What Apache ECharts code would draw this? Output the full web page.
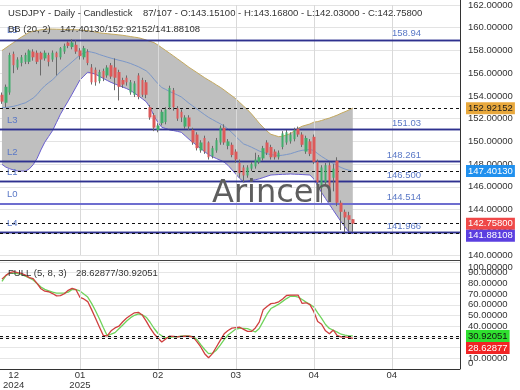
<!DOCTYPE html>
<html><head><meta charset="utf-8">
<script src="https://cdn.jsdelivr.net/npm/echarts@6/dist/echarts.min.js"></script>
<style>html,body{margin:0;padding:0;background:#fff}#c{width:520px;height:390px}</style>
</head><body><div id="c"></div>
<script>
// ---------- data ----------
const symbolName = 'USDJPY', periodName = 'Daily', chartKind = 'Candlestick';
const barCounter = '87/107';
const slotCount = 118;
const tickIndex = [3, 20, 40, 60, 80, 100];
const tickLabels = ['12\n2024', '01\n2025', '02', '03', '04', '04'];
const monthGridIndex = [20, 40, 60, 80, 100];

const opens = [154.1,153.4,154.3,157.7,156.5,156.9,157.0,157.0,157.9,157.8,157.8,157.3,157.6,157.2,157.8,157.4,157.9,158.7,158.3,158.5,158.0,157.4,
157.9,156.5,156.3,155.3,156.2,155.8,156.7,156.5,156.1,155.4,155.6,154.3,154.1,155.8,155.4,155.2,153.0,152.3,151.0,151.6,151.7,153.0,154.5,
152.9,152.6,151.3,152.1,151.0,150.6,149.2,150.3,149.9,148.7,149.2,149.9,151.2,149.6,149.7,149.1,148.1,147.7,147.0,147.6,147.8,148.2,148.5,149.9,149.5,149.1,148.6,149.5,149.9,150.0,150.2,151.1,150.6,149.1,
150.0,150.4,148.2,145.9,146.4,147.9,146.8,148.3,144.6,143.8,143.5,143.151];
const closes = [153.5,154.8,157.6,156.7,157.2,157.4,157.6,158.0,157.4,157.0,157.2,157.8,157.0,157.8,157.4,158.2,158.4,158.4,158.7,157.9,157.5,158.2,
156.9,155.2,155.2,156.1,155.6,156.5,155.7,155.6,154.8,155.0,155.2,155.2,155.1,153.9,154.1,154.1,152.1,151.2,151.4,152.6,152.8,154.7,153.0,
152.0,152.1,152.1,151.3,149.9,149.4,149.9,149.1,148.6,149.4,150.1,151.2,149.9,150.0,148.8,148.4,147.2,147.0,147.7,148.0,148.4,148.6,149.4,149.0,148.6,148.6,149.0,150.7,150.8,150.6,151.0,150.6,149.7,150.3,
148.9,148.2,146.4,147.7,147.9,145.9,147.6,144.6,143.8,143.3,143.1,142.758];
const lows = [153.3,153.0,154.1,156.0,156.3,156.6,156.8,156.8,157.1,156.8,155.8,157.1,156.6,157.0,155.8,157.2,157.7,158.2,158.1,157.7,157.2,157.2,
156.7,155.0,154.9,155.1,155.3,155.6,155.5,154.5,153.6,154.7,154.9,154.1,153.9,153.7,153.9,153.8,151.9,150.9,150.8,151.4,151.5,152.8,152.7,
151.8,151.7,151.1,151.0,149.7,149.2,149.0,148.9,148.4,148.5,149.0,149.7,149.7,149.3,148.6,148.1,146.8,146.4,146.8,147.4,147.6,148.0,148.3,148.8,148.4,148.4,148.4,149.3,149.7,149.8,150.0,150.4,149.5,148.9,
148.7,148.0,145.0,144.6,146.1,145.2,145.6,144.3,142.2,142.0,142.1,142.03];
const highs = [154.3,155.0,157.8,157.9,157.4,157.6,157.8,158.1,158.1,158.0,157.9,158.0,157.8,158.0,157.9,158.3,158.6,158.8,159.0,158.9,158.2,158.4,
158.1,156.8,156.5,156.3,156.4,156.7,156.9,157.3,156.3,155.6,155.8,155.4,155.3,156.0,155.6,155.4,153.2,152.5,151.6,152.8,153.0,154.9,154.7,
153.1,152.8,152.3,152.3,151.2,150.8,150.1,150.5,150.0,149.6,150.3,151.4,151.5,150.2,149.9,149.3,148.4,147.9,147.9,148.2,149.0,148.8,149.6,150.1,149.7,149.3,149.2,150.9,151.0,150.8,151.2,151.3,150.8,150.5,
150.2,150.6,148.4,147.9,148.1,148.2,148.0,148.6,144.8,144.0,143.8,143.168];

const bbUpper = [157.99,158.23,158.47,158.70,158.95,159.18,159.38,159.60,159.68,159.75,
159.82,159.85,159.89,159.88,159.87,159.86,159.85,159.84,159.83,159.82,
159.81,159.77,159.74,159.69,159.62,159.55,159.51,159.48,159.44,159.41,
159.37,159.33,159.28,159.22,159.17,159.12,159.03,158.92,158.80,158.69,
158.48,158.24,158.00,157.76,157.52,157.27,157.02,156.77,156.51,156.29,
156.06,155.83,155.60,155.39,155.19,154.97,154.76,154.52,154.26,154.01,
153.74,153.42,153.10,152.78,152.42,152.02,151.60,151.24,150.90,150.62,
150.52,150.41,150.46,150.56,150.69,150.92,151.16,151.33,151.43,151.53,
151.69,151.74,151.84,151.95,152.05,152.18,152.31,152.47,152.61,152.76,
152.92152];
const bbMiddle = [152.99,152.98,153.03,153.09,153.17,153.29,153.39,153.59,153.81,154.12,
154.54,154.89,155.17,155.42,155.77,156.13,156.42,156.70,157.00,157.30,
157.61,157.76,157.92,157.85,157.77,157.64,157.53,157.42,157.32,157.23,
157.14,157.06,156.96,156.85,156.71,156.57,156.39,156.21,155.89,155.47,
155.08,154.74,154.57,154.39,154.24,154.08,153.91,153.63,153.35,153.10,
152.85,152.60,152.35,152.11,151.92,151.73,151.55,151.35,151.08,150.76,
150.43,150.08,149.77,149.64,149.49,149.32,149.15,149.03,148.92,148.83,
148.79,148.75,148.78,148.84,148.91,149.02,149.13,149.21,149.25,149.29,
149.19,148.92,148.67,148.46,148.25,148.06,147.87,147.70,147.56,147.46,
147.40130];
const bbLower = [147.98,147.73,147.59,147.48,147.39,147.39,147.39,147.57,147.94,148.49,
149.25,149.93,150.44,150.96,151.67,152.39,152.98,153.56,154.16,154.78,
155.40,155.74,156.09,156.01,155.91,155.72,155.54,155.36,155.19,155.05,
154.91,154.78,154.64,154.48,154.24,154.01,153.75,153.49,152.98,152.24,
151.67,151.24,151.13,151.01,150.95,150.88,150.80,150.49,150.18,149.91,
149.64,149.37,149.10,148.83,148.65,148.49,148.34,148.17,147.89,147.50,
147.12,146.73,146.43,146.49,146.56,146.62,146.70,146.81,146.93,147.04,
147.06,147.08,147.10,147.11,147.13,147.11,147.10,147.08,147.06,147.04,
146.69,146.10,145.49,144.97,144.45,143.94,143.43,142.93,142.47,142.02,
141.88108];

const stochK = [84,87.5,90,91,90,89.3,87.7,85.4,84.4,80,
75,72.7,72.2,70.5,68.3,68.6,70.3,73.5,75.4,74.1,
67,65.5,63,55.5,47.5,39.2,31.3,31,35.7,38.4,
40,44.2,47.7,50.2,52.5,53,50.4,44.8,38.5,33,
29,25.2,28,30.8,30.5,30,30.4,30.8,30.6,30,
25.5,20.6,14.3,10.5,14.4,20.6,26.8,32.9,36,38.2,
38.6,39,37.1,35.2,35.1,38.4,43.8,55.3,58.4,61.1,
61.6,62.8,65.5,68.7,69,69,69,61.3,61.9,60.2,
53.6,44.4,41.8,35.7,32.9,36.4,31.3,30,30,29.3,
28.62877];
const stochD = [82,87.1,89.9,89.5,89.2,88.4,86.8,85.1,83.2,79.9,
76.6,74.4,73.1,71.8,71,71,71,71.8,74.4,74.1,
73,70.1,67.2,61.3,54.4,46.9,38.7,31.1,32.5,34,
37.6,41.2,44.8,48,50.2,51.6,50.6,48.4,43.7,38.1,
33.4,31,29.1,29.6,30,30.3,30.6,30.9,30.7,30.3,
27.6,22.7,18.2,14.4,14.8,17.6,22.4,27.4,31.8,34.5,
37.3,38,38,37.7,36.2,34.6,37.9,44.5,51.2,56.5,
58.5,60.6,63.2,65.8,68,68,67.2,65,62.5,60.5,
58,52.4,47.3,41.6,37.9,36.2,34.4,32.5,31.7,31,
30.92051];

const levelNames  = ['L5', 'L3', 'L2', 'L1', 'L0', 'L4'];
const levelValues = [158.94, 151.03, 148.261, 146.500, 144.514, 141.966];
const levelTexts  = ['158.94', '151.03', '148.261', '146.500', '144.514', '141.966'];
const bbParams = 'BB (20, 2)';
const stochParams = 'FULL (5, 8, 3)';

// ---------- styles ----------
const FONT = '"Liberation Sans", Arial, sans-serif';
const FS = 9.5;
const GREEN = '#41ad6c', RED = '#dd5a5a', WICK = '#6a6a6a';
const LEVEL_COLOR = '#2f318f', LEVEL_TEXT = '#5a78c6';

const last = a => a[a.length - 1];
const categories = Array.from({length: slotCount}, (_, i) => 'b' + i);
const wickData = opens.map((o, i) => [o, closes[i], lows[i], highs[i]]);
const bodyData = opens.map((o, i) => [o, closes[i], Math.min(o, closes[i]), Math.max(o, closes[i])]);
const bandWidth = bbUpper.map((u, i) => u - bbLower[i]);

const dashed = v => ({yAxis: v, lineStyle: {color: '#111', type: [3, 3], width: 1}, label: {show: false}});
const vGrid = idx => ({xAxis: categories[idx], lineStyle: {color: '#d9d9d9', type: 'solid', width: 1}, label: {show: false}});

const levelMarks = [];
levelValues.forEach((v, i) => {
  const isL0 = levelNames[i] === 'L0';
  const ls = {color: isL0 ? '#6e6ecf' : LEVEL_COLOR, type: 'solid', width: isL0 ? 2 : 1.3};
  levelMarks.push({yAxis: v, lineStyle: ls, label: {show: true, position: 'insideEndTop', distance: [39, 1],
    formatter: levelTexts[i], color: LEVEL_TEXT, fontSize: FS, fontFamily: FONT}});
  levelMarks.push({yAxis: v, lineStyle: ls, label: {show: true, position: 'insideStartTop', distance: [7, 4],
    formatter: levelNames[i], color: LEVEL_TEXT, fontSize: FS, fontFamily: FONT}});
});

const gridMarks = monthGridIndex.map(vGrid);
const mainDashed = [dashed(last(bbUpper)), dashed(last(bbMiddle)), dashed(last(closes)), dashed(last(bbLower))];
const subMarks = [...monthGridIndex.map(vGrid), dashed(last(stochD)), dashed(last(stochK))];

const lineBase = {type: 'line', symbol: 'none', silent: true, animation: false};

const option = {
  animation: false,
  backgroundColor: '#fff',
  grid: [
    {left: 0, right: 60, top: 5, height: 250},
    {left: 0, right: 60, top: 262, height: 107}
  ],
  xAxis: [
    {type: 'category', gridIndex: 0, data: categories, boundaryGap: true,
     axisLine: {show: false}, axisTick: {show: false}, axisLabel: {show: false}, splitLine: {show: false}},
    {type: 'category', gridIndex: 1, data: categories, boundaryGap: true,
     axisLine: {show: true, lineStyle: {color: '#333', width: 1}}, axisTick: {show: false},
     axisLabel: {show: true, interval: (idx) => tickIndex.includes(idx),
       formatter: (val, idx) => { const k = tickIndex.indexOf(idx); return k >= 0 ? tickLabels[k] : ''; },
       color: '#333', fontSize: FS, fontFamily: FONT, margin: 1, lineHeight: 10},
     splitLine: {show: false}}
  ],
  yAxis: [
    {type: 'value', gridIndex: 0, position: 'right', min: 140, max: 162, interval: 2,
     axisLine: {show: false}, axisTick: {show: false},
     axisLabel: {formatter: v => v.toFixed(5), color: '#333', fontSize: FS, fontFamily: FONT, margin: 8},
     splitLine: {show: true, lineStyle: {color: '#e3e3e3', width: 1}}},
    {type: 'value', gridIndex: 1, position: 'right', min: 0, max: 100, interval: 10,
     axisLine: {show: false}, axisTick: {show: false},
     axisLabel: {formatter: v => v.toFixed(5), color: '#333', fontSize: FS, fontFamily: FONT, margin: 8,
       showMinLabel: false, showMaxLabel: false},
     splitLine: {show: true, lineStyle: {color: '#e6e6e6', width: 1}}}
  ],
  series: [
    {...lineBase, name: 'bbBase', z: 1, data: bbLower, stack: 'bb', lineStyle: {width: 0, opacity: 0}},
    {...lineBase, name: 'bbFill', z: 1, data: bandWidth, stack: 'bb', lineStyle: {width: 0, opacity: 0},
     areaStyle: {color: '#bfbfbf', opacity: 1}},
    {...lineBase, name: 'bbUpper', z: 2, data: bbUpper, lineStyle: {color: '#c4a95e', width: 1}},
    {...lineBase, name: 'bbLower', z: 2, data: bbLower, lineStyle: {color: '#6a5fd0', width: 1},
     markLine: {symbol: ['none', 'none'], silent: true, animation: false, data: gridMarks}},
    {...lineBase, name: 'bbMiddle', z: 3, data: bbMiddle, lineStyle: {color: '#7b97c8', width: 1},
     markLine: {symbol: ['none', 'none'], silent: true, animation: false, data: levelMarks}},
    {type: 'candlestick', name: 'wick', z: 6, data: wickData, barWidth: 1, silent: true, progressive: 0,
     itemStyle: {color: WICK, color0: WICK, borderColor: WICK, borderColor0: WICK, borderWidth: 1}},
    {type: 'candlestick', name: 'body', z: 7, data: bodyData, barWidth: 3, silent: true, progressive: 0,
     itemStyle: {color: GREEN, color0: RED, borderColor: GREEN, borderColor0: RED, borderWidth: 0}},
    {...lineBase, name: 'lastValues', z: 8, data: [], lineStyle: {opacity: 0},
     markLine: {symbol: ['none', 'none'], silent: true, animation: false, data: mainDashed}},
    {...lineBase, name: '%D', xAxisIndex: 1, yAxisIndex: 1, data: stochD, lineStyle: {color: '#6fd35b', width: 1.3},
     markLine: {symbol: ['none', 'none'], silent: true, animation: false, data: subMarks}},
    {...lineBase, name: '%K', xAxisIndex: 1, yAxisIndex: 1, data: stochK, lineStyle: {color: '#cf3f3f', width: 1.3}}
  ]
};

const chart = echarts.init(document.getElementById('c'), null, {renderer: 'canvas', width: 520, height: 390});
chart.setOption(option);

// ---------- texts & value tags ----------
const txt = (id, text, x, y, extra) => ({type: 'text', id, z: 50, silent: true,
  style: Object.assign({text, x, y, fill: '#333', font: FS + 'px ' + FONT, textAlign: 'left', textVerticalAlign: 'middle'}, extra || {})});

const o = last(opens), h = last(highs), l = last(lows), c = last(closes);
const graphics = [
  {type: 'line', id: 'gSep', z: 40, silent: true, shape: {x1: 0, y1: 260.5, x2: 460, y2: 260.5}, style: {stroke: '#444', lineWidth: 1}},
  {type: 'line', id: 'gVax', z: 40, silent: true, shape: {x1: 460.5, y1: 0, x2: 460.5, y2: 369}, style: {stroke: '#333', lineWidth: 1}},
  txt('tHead1', `${symbolName} - ${periodName} - ${chartKind}`, 8, 13),
  txt('tHead2', `${barCounter} - O:${o.toFixed(5)} - H:${h.toFixed(5)} - L:${l.toFixed(5)} - C:${c.toFixed(5)}`, 143, 13),
  txt('tBB1', bbParams, 8, 29),
  txt('tBB2', `${last(bbMiddle).toFixed(5)}/${last(bbUpper).toFixed(5)}/${last(bbLower).toFixed(5)}`, 60, 29),
  txt('tSt1', stochParams, 8, 273),
  txt('tSt2', `${last(stochK).toFixed(5)}/${last(stochD).toFixed(5)}`, 76, 273),
  txt('tWm', 'Arincen', 212, 194, {font: '32px "DejaVu Sans", sans-serif', fill: '#5e5e5e'}),
  txt('tY100', (100).toFixed(5), 468, 267),
  txt('tY0', '0', 468, 363)
];

function placeTags(axisIdx, tags, prefix) {
  const items = tags.map(t => Object.assign({}, t, {py: chart.convertToPixel({yAxisIndex: axisIdx}, t.v)}));
  items.sort((a, b) => a.py - b.py);
  for (let i = 1; i < items.length; i++) {
    if (items[i].py < items[i - 1].py + 12) items[i].py = items[i - 1].py + 12;
  }
  items.forEach((t, i) => graphics.push(txt(prefix + i, t.v.toFixed(5), 466, t.py,
    {fill: t.fg, backgroundColor: t.bg, padding: [1, 2, 1, 2]})));
}
placeTags(0, [
  {v: last(bbUpper), bg: '#e8a83c', fg: '#1a1a1a'},
  {v: last(bbMiddle), bg: '#2090ee', fg: '#ffffff'},
  {v: last(closes), bg: '#ef4848', fg: '#ffffff'},
  {v: last(bbLower), bg: '#5b3fe0', fg: '#ffffff'}
], 'tagMain');
placeTags(1, [
  {v: last(stochD), bg: '#2fe02f', fg: '#111111'},
  {v: last(stochK), bg: '#f02424', fg: '#ffffff'}
], 'tagSub');

chart.setOption({graphic: {elements: graphics}});
</script>
</body></html>
